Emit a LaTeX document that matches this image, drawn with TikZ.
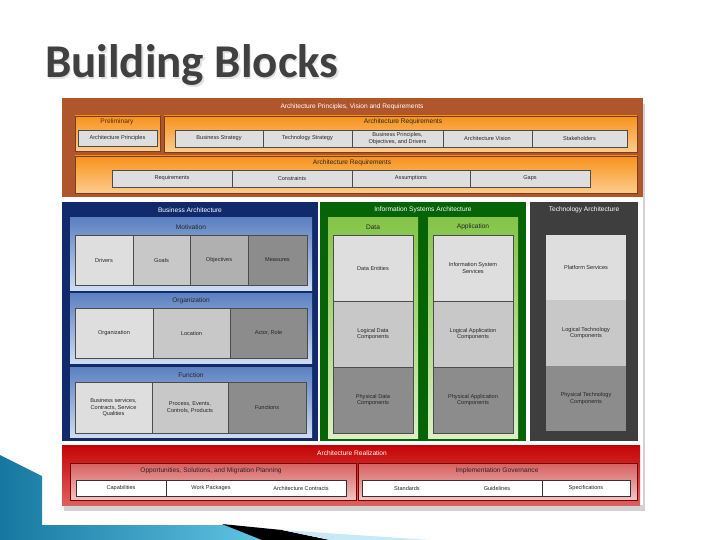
\documentclass[tikz,border=0pt]{standalone}
\usepackage{fontspec}
\setmainfont{Liberation Sans}
\newfontfamily\headfont{Carlito}
\usepackage{tikz}
\usetikzlibrary{shadows}

\definecolor{brownbg}{RGB}{176,86,44}
\definecolor{orangetop}{RGB}{247,146,28}
\definecolor{orangebot}{RGB}{252,204,140}
\definecolor{navybg}{RGB}{16,42,108}
\definecolor{bluetop}{RGB}{92,128,192}
\definecolor{bluebot}{RGB}{206,220,242}
\definecolor{greenbg}{RGB}{6,100,6}
\definecolor{greentop}{RGB}{132,196,72}
\definecolor{greenbot}{RGB}{218,240,196}
\definecolor{techbg}{RGB}{62,62,62}
\definecolor{redtop}{RGB}{198,4,4}
\definecolor{redbot}{RGB}{222,96,96}
\definecolor{pinktop}{RGB}{214,96,96}
\definecolor{pinkbot}{RGB}{242,196,196}
\definecolor{gA}{RGB}{222,222,222}
\definecolor{gB}{RGB}{200,200,200}
\definecolor{gC}{RGB}{176,176,176}
\definecolor{gD}{RGB}{140,140,140}
\definecolor{tealA}{RGB}{22,120,160}
\definecolor{tealB}{RGB}{96,196,228}

\tikzstyle{cell}=[shape=rectangle,
                  draw=black!70,
                  fill=gA,
                  inner sep=1pt,
                  align=center,
                  text=black!85,
                  font=\fontsize{5.6}{6.4}\selectfont]
\tikzstyle{wcell}=[shape=rectangle,
                   fill=white,
                   inner sep=1pt,
                   minimum height=16pt,
                   text=black!85,
                   font=\fontsize{5.6}{6.4}\selectfont]
\tikzstyle{hd}=[inner sep=0pt,
                text=black!85,
                font=\fontsize{6.6}{7.4}\selectfont]
\tikzstyle{hdw}=[hd, text=white]

\begin{document}
\begin{tikzpicture}[x=1pt,y=-1pt]
\useasboundingbox (0,0) rectangle (720,540);
\fill[white] (0,0) rectangle (720,540);

% slide decoration
\shade[left color=tealA, right color=tealB] (0,455) -- (42,476) -- (42,525)
      -- (226,525) -- (262,540) -- (0,540) -- cycle;
\fill[black] (222,524) -- (282,530) -- (330,540) -- (262,540) -- cycle;
\fill[tealB!35] (282,530) -- (430,540) -- (330,540) -- cycle;

% title
\node[anchor=base west, inner sep=0pt, text=black!12,
      font=\headfont\bfseries\fontsize{47}{47}\selectfont] (ttlshade) at (46.2,79.2) {Building Blocks};
\node[anchor=base west, inner sep=0pt, text=black!75,
      font=\headfont\bfseries\fontsize{47}{47}\selectfont] (ttl) at (45,78) {Building Blocks};

% card
\fill[white, drop shadow={shadow xshift=2pt, shadow yshift=-6pt, opacity=0.35}] (62,98) rectangle (643,505);

% architecture principles, vision and requirements
\fill[brownbg] (62,98) rectangle (643,197);
\node[hdw] (apvr) at (352,107) {Architecture Principles, Vision and Requirements};

\shade[top color=orangetop, bottom color=orangebot, draw=brownbg!70!black] (75,116) rectangle (160,151);
\node[hd, text=brownbg!50!black] (prelim) at (117,122) {Preliminary};
\node[cell, minimum width=79pt, minimum height=16pt] (ap) at (117.5,138) {Architecture Principles};

\shade[top color=orangetop, bottom color=orangebot, draw=brownbg!70!black] (164,116) rectangle (637,152);
\node[hd] (areq) at (403,122) {Architecture Requirements};
\node[cell, minimum width=88pt, minimum height=17pt] (bstrat) at (219,138.5) {Business Strategy};
\node[cell, minimum width=89pt, minimum height=17pt] (tstrat) at (307.5,138.5) {Technology Strategy};
\node[cell, minimum width=91pt, minimum height=17pt] (bpod) at (397.5,138.5) {Business Principles,\\Objectives, and Drivers};
\node[cell, minimum width=89pt, minimum height=17pt] (avis) at (487.5,138.5) {Architecture Vision};
\node[cell, minimum width=95pt, minimum height=17pt] (stake) at (579.5,138.5) {Stakeholders};

\shade[top color=orangetop, bottom color=orangebot, draw=brownbg!70!black] (75,156) rectangle (637,193);
\node[hd] (areqb) at (352,163) {Architecture Requirements};
\node[cell, minimum width=120pt, minimum height=17pt] (reqs) at (172,178.5) {Requirements};
\node[cell, minimum width=120pt, minimum height=17pt] (cons) at (292,178.5) {Constraints};
\node[cell, minimum width=118pt, minimum height=17pt] (assum) at (411,178.5) {Assumptions};
\node[cell, minimum width=120pt, minimum height=17pt] (gaps) at (530,178.5) {Gaps};

% business architecture
\fill[navybg] (62,202) rectangle (318,441);
\node[hdw] (ba) at (190,210) {Business Architecture};

\shade[top color=bluetop, bottom color=bluebot] (70,218) rectangle (312,290);
\node[hd] (motiv) at (191,227) {Motivation};
\node[cell, fill=gA, minimum width=58pt, minimum height=50pt] (drivers) at (104,260) {Drivers};
\node[cell, fill=gB, minimum width=57pt, minimum height=50pt] (goals) at (161.5,260) {Goals};
\node[cell, fill=gC, minimum width=58pt, minimum height=50pt] (objs) at (219,260) {Objectives};
\node[cell, fill=gD, minimum width=59pt, minimum height=50pt] (meas) at (277.5,260) {Measures};

\shade[top color=bluetop, bottom color=bluebot] (70,293) rectangle (312,363);
\node[hd] (orgt) at (191,301) {Organization};
\node[cell, fill=gA, minimum width=78pt, minimum height=50pt] (org) at (114,333) {Organization};
\node[cell, fill=gB, minimum width=77pt, minimum height=50pt] (loc) at (191.5,333) {Location};
\node[cell, fill=gD, minimum width=77pt, minimum height=50pt] (actor) at (268.5,333) {Actor, Role};

\shade[top color=bluetop, bottom color=bluebot] (70,367) rectangle (312,437);
\node[hd] (func) at (191,375) {Function};
\node[cell, fill=gA, minimum width=77pt, minimum height=51pt] (bsvc) at (113.5,407.5) {Business services,\\Contracts, Service\\Qualities};
\node[cell, fill=gB, minimum width=76pt, minimum height=51pt] (proc) at (190,407.5) {Process, Events,\\Controls, Products};
\node[cell, fill=gD, minimum width=78pt, minimum height=51pt] (funcs) at (267,407.5) {Functions};

% information systems architecture
\fill[greenbg] (320,202) rectangle (526,441);
\node[hdw] (isa) at (423,210) {Information Systems Architecture};

\shade[top color=greentop, bottom color=greenbot] (328,218) rectangle (418,438);
\node[hd] (data) at (373,227) {Data};
\node[cell, fill=gA, minimum width=80pt, minimum height=66pt] (dent) at (373,268) {Data Entities};
\node[cell, fill=gB, minimum width=80pt, minimum height=66pt] (ldc) at (373,334) {Logical Data\\Components};
\node[cell, fill=gD, minimum width=80pt, minimum height=66pt] (pdc) at (373,400) {Physical Data\\Components};

\shade[top color=greentop, bottom color=greenbot] (428,218) rectangle (518,438);
\node[hd] (app) at (473,227) {Application};
\node[cell, fill=gA, minimum width=80pt, minimum height=66pt] (iss) at (473,268) {Information System\\Services};
\node[cell, fill=gB, minimum width=80pt, minimum height=66pt] (lac) at (473,334) {Logical Application\\Components};
\node[cell, fill=gD, minimum width=80pt, minimum height=66pt] (pac) at (473,400) {Physical Application\\Components};

% technology architecture
\fill[techbg] (530,202) rectangle (638,441);
\node[hdw] (ta) at (584,210) {Technology Architecture};
\node[cell, fill=gA, draw=none, minimum width=80pt, minimum height=65pt] (plat) at (586,267.5) {Platform Services};
\node[cell, fill=gB, draw=none, minimum width=80pt, minimum height=66pt] (ltc) at (586,333) {Logical Technology\\Components};
\node[cell, fill=gD, draw=none, minimum width=80pt, minimum height=65pt] (ptc) at (586,398.5) {Physical Technology\\Components};

% architecture realization
\shade[top color=redtop, bottom color=redbot] (62,445) rectangle (640,505);
\node[hdw] (ar) at (352,453) {Architecture Realization};

\shade[top color=pinktop, bottom color=pinkbot, draw=redtop!60!black] (70,463) rectangle (356,500);
\node[hd] (osmp) at (211,471) {Opportunities, Solutions, and Migration Planning};
\node[wcell, minimum width=90pt] (capab) at (121,488) {Capabilities};
\node[wcell, minimum width=90pt] (wpack) at (211,488) {Work Packages};
\node[wcell, minimum width=90pt] (acon) at (301,488) {Architecture Contracts};
\draw[black!80] (capab.north west) rectangle (acon.south east);
\draw[black!80] (capab.north east) -- (capab.south east);

\shade[top color=pinktop, bottom color=pinkbot, draw=redtop!60!black] (358,463) rectangle (637,500);
\node[hd] (igov) at (497,471) {Implementation Governance};
\node[wcell, minimum width=90pt] (stds) at (407,488) {Standards};
\node[wcell, minimum width=90pt] (guide) at (497,488) {Guidelines};
\node[wcell, minimum width=88pt] (specs) at (586,488) {Specifications};
\draw[black!80] (stds.north west) rectangle (specs.south east);
\draw[black!80] (guide.north east) -- (guide.south east);

\end{tikzpicture}
\end{document}
